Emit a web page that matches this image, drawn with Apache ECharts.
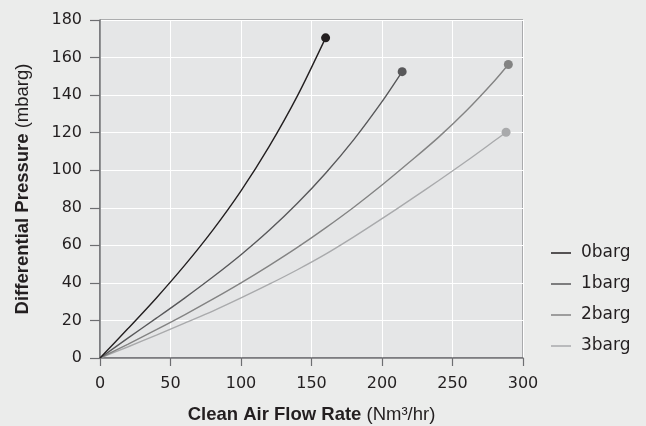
<!DOCTYPE html>
<html><head><meta charset="utf-8">
<script src="https://cdn.jsdelivr.net/npm/echarts@6/dist/echarts.min.js"></script>
<style>html,body{margin:0;padding:0;background:#ebeceb;}#c{width:646px;height:426px;}</style>
</head><body><div id="c"></div>
<script>
const seriesNames = ['0barg', '1barg', '2barg', '3barg'];
const seriesColors = ['#231f20', '#58585a', '#838383', '#a9aaac'];

const flow0 = [0, 20, 40, 60, 80, 100, 120, 140, 160];
const dp0   = [0, 15.8, 32, 49.3, 68.1, 89, 112.7, 139.6, 170.5];

const flow1 = [0, 20, 40, 60, 80, 100, 120, 140, 160, 180, 200, 214.3];
const dp1   = [0, 10.7, 21.2, 31.9, 43.1, 55, 68, 82.4, 98.4, 116.3, 136.5, 152.5];

const flow2 = [0, 20, 40, 60, 80, 100, 120, 140, 160, 180, 200, 220, 240, 260, 280, 289.6];
const dp2   = [0, 7.4, 15.1, 23, 31.3, 40, 49.2, 58.9, 69.3, 80.3, 92.1, 104.6, 117.5, 131.8, 147.8, 156.3];

const flow3 = [0, 20, 40, 60, 80, 100, 120, 140, 160, 180, 200, 220, 240, 260, 280, 288];
const dp3   = [0, 6, 12.2, 18.6, 25, 32, 39.3, 47, 55.3, 64.5, 74.2, 84.2, 94.4, 104.9, 115.8, 120.2];

const xTickMin = 0, xTickMax = 300, xTickStep = 50;
const yTickMin = 0, yTickMax = 180, yTickStep = 20;
const xTitleBold = 'Clean Air Flow Rate', xTitleUnit = '(Nm³/hr)';
const yTitleBold = 'Differential Pressure', yTitleUnit = '(mbarg)';

const flows = [flow0, flow1, flow2, flow3];
const dps = [dp0, dp1, dp2, dp3];

const FONT = 'DejaVu Sans';
const TFONT = 'Liberation Sans';
const TXT = '#231f20';

function buildData(xs, ys) {
  return xs.map((x, i) => {
    if (i === xs.length - 1) return { value: [x, ys[i]], symbol: 'circle', symbolSize: 9 };
    return { value: [x, ys[i]], symbol: 'none' };
  });
}

const chart = echarts.init(document.getElementById('c'), null, { renderer: 'canvas' });
chart.setOption({
  backgroundColor: '#ebeceb',
  animation: false,
  textStyle: { fontFamily: FONT },
  grid: {
    left: 100, right: 123, top: 20, bottom: 68,
    outerBoundsMode: 'none', containLabel: false,
    show: true, backgroundColor: '#e5e6e7', borderColor: '#6d6e71', borderWidth: 1
  },
  legend: {
    orient: 'vertical', left: 546, top: 238,
    itemWidth: 20, itemHeight: 1.5, itemGap: 11,
    icon: 'rect',
    data: seriesNames,
    textStyle: { fontFamily: FONT, fontSize: 17, color: TXT, lineHeight: 20, padding: [0, 0, 0, 5] }
  },
  xAxis: {
    type: 'value', min: xTickMin, max: xTickMax, interval: xTickStep,
    name: '{b|' + xTitleBold + '} ' + xTitleUnit,
    nameLocation: 'middle', nameGap: 47,
    nameTextStyle: { fontFamily: TFONT, fontSize: 18.5, color: TXT,
      rich: { b: { fontFamily: TFONT, fontSize: 18.5, fontWeight: 'bold', color: TXT } } },
    axisLine: { show: true, lineStyle: { color: '#6d6e71', width: 1.5 } },
    axisTick: { show: true, length: 8, lineStyle: { color: '#6d6e71', width: 1.2 } },
    axisLabel: { fontFamily: FONT, fontSize: 16, color: TXT, margin: 18 },
    splitLine: { show: true, lineStyle: { color: '#ffffff', width: 1 } }
  },
  yAxis: {
    type: 'value', min: yTickMin, max: yTickMax, interval: yTickStep,
    name: '{b|' + yTitleBold + '} ' + yTitleUnit,
    nameLocation: 'middle', nameGap: 68, nameRotate: 90,
    nameTextStyle: { fontFamily: TFONT, fontSize: 18.5, color: TXT,
      rich: { b: { fontFamily: TFONT, fontSize: 18.5, fontWeight: 'bold', color: TXT } } },
    axisLine: { show: true, lineStyle: { color: '#6d6e71', width: 1.5 } },
    axisTick: { show: true, length: 10, lineStyle: { color: '#6d6e71', width: 1.2 } },
    axisLabel: { fontFamily: FONT, fontSize: 16, color: TXT, margin: 18 },
    splitLine: { show: true, lineStyle: { color: '#ffffff', width: 1 } }
  },
  series: seriesNames.map((name, k) => ({
    name: name,
    type: 'line',
    smooth: 0.3,
    symbol: 'none',
    color: seriesColors[k],
    lineStyle: { width: 1.4, color: seriesColors[k] },
    itemStyle: { color: seriesColors[k] },
    data: buildData(flows[k], dps[k]),
    z: 10 - k
  }))
});
</script></body></html>
